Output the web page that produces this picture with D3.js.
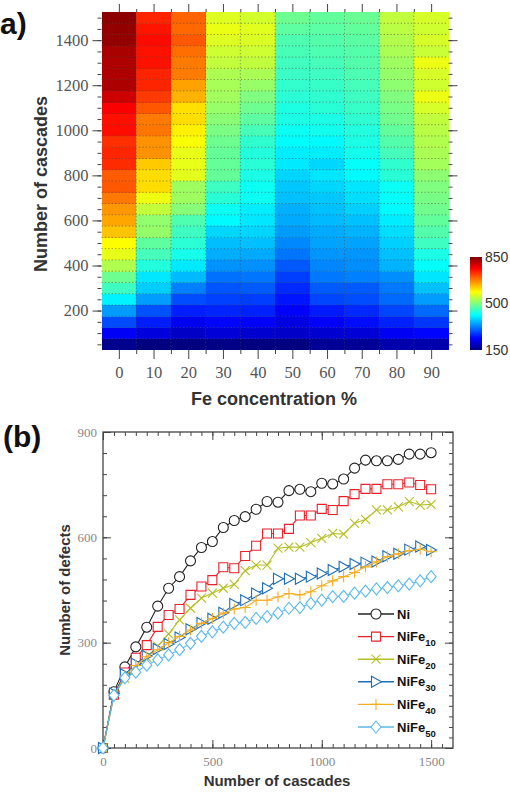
<!DOCTYPE html>
<html lang="en">
<head>
<meta charset="UTF-8">
<title>Defects vs cascades in NiFe alloys</title>
<script src="https://d3js.org/d3.v7.min.js"></script>
<style>
  body { margin: 0; background: #fff; }
  svg { display: block; }
</style>
</head>
<body>
<svg width="510" height="794"></svg>
<script>
// ---- data ----
const cascades = [0,50,100,150,200,250,300,350,400,450,500,550,600,650,700,750,800,850,900,950,1000,1050,1100,1150,1200,1250,1300,1350,1400,1450,1500];
const feConc = [0,10,20,30,40,50,60,70,80,90];
const seriesNames = ["Ni", "NiFe10", "NiFe20", "NiFe30", "NiFe40", "NiFe50"];

const ni     = [0,160,231,288,344,404,455,488,533,571,588,628,648,659,680,702,700,733,737,730,754,752,766,797,820,818,818,822,837,837,841];
const nife10 = [0,151,215,257,293,345,379,396,436,460,478,515,512,547,576,611,611,624,662,662,681,678,703,723,738,738,751,751,756,749,737];
const nife20 = [0,150,198,228,258,290,325,365,398,427,441,455,466,505,521,521,569,572,572,585,597,611,609,640,651,678,678,687,702,692,694];
const nife30 = [0,155,210,240,262,282,296,315,338,356,368,385,410,421,440,455,482,482,482,488,497,507,516,524,528,531,546,553,565,574,564];
const nife40 = [0,150,205,235,260,280,300,318,336,355,369,384,396,400,421,421,430,440,436,445,462,476,488,500,516,530,545,553,562,566,559];
const nife50 = [0,150,200,216,236,251,265,280,298,318,331,344,355,358,369,374,384,398,400,412,421,431,432,441,447,453,457,462,467,476,488];

// heat-map columns for 60..90 % Fe (rows 50..1500 cascades)
const fe60 = [165,205,235,255,285,300,320,330,340,350,355,365,370,375,385,395,385,400,410,425,430,440,445,450,455,460,465,470,475,480];
const fe70 = [165,210,245,265,290,300,325,335,340,350,360,370,380,390,395,410,415,425,430,435,445,450,455,460,465,470,470,475,480,485];
const fe80 = [180,230,260,285,310,320,335,360,370,380,390,400,410,415,420,440,445,460,470,480,490,495,500,510,515,520,530,535,540,545];
const fe90 = [180,240,275,310,345,370,395,415,430,455,470,480,490,495,500,510,525,530,535,540,545,560,575,555,560,575,550,560,555,560];

const colorTicks = [150, 500, 850];
const lineColors = ["#222222", "#e8212b", "#b5bf22", "#1f6db5", "#f2ae22", "#5bb9ea"];

// ---- setup ----
const svg = d3.select("svg");
const serif = '"Liberation Serif", "DejaVu Serif", serif';
const sans = '"Liberation Sans", Arial, sans-serif';
const fmt = d3.format("d");

const jet = d3.scaleLinear()
  .domain([150, 237.5, 412.5, 587.5, 762.5, 850])
  .range(["#000080", "#0000ff", "#00ffff", "#ffff00", "#ff0000", "#800000"])
  .clamp(true);

function styleAxis(g, color, size) {
  g.select(".domain").remove();
  g.attr("font-family", serif).attr("font-size", size);
  g.selectAll(".tick line").attr("stroke", "#444").attr("stroke-width", 1);
  g.selectAll(".tick text").attr("fill", color);
}

// ================= panel (a) : heat map =================
const xa = d3.scaleLinear().domain([-5, 95]).range([101.5, 448.5]);
const ya = d3.scaleLinear().domain([25, 1525]).range([350, 12]);

const rows = cascades.slice(1);
const heatCols = [ni, nife10, nife20, nife30, nife40, nife50].map(s => s.slice(1)).concat([fe60, fe70, fe80, fe90]);
const cells = feConc.flatMap((fe, i) => heatCols[i].map((v, j) => ({ fe, n: rows[j], v })));

const ga = svg.append("g");
ga.selectAll("rect.cell")
  .data(cells)
  .join("rect")
  .attr("class", "cell")
  .attr("x", d => xa(d.fe - 5))
  .attr("y", d => ya(d.n + 25))
  .attr("width", d => xa(d.fe + 5) - xa(d.fe - 5) + 0.4)
  .attr("height", d => ya(d.n - 25) - ya(d.n + 25) + 0.4)
  .attr("fill", d => jet(d.v))
  .attr("shape-rendering", "crispEdges");

// dotted grid on cell borders
ga.selectAll("line.hgrid")
  .data(rows.slice(0, -1))
  .join("line")
  .attr("x1", xa(-5)).attr("x2", xa(95))
  .attr("y1", d => ya(d + 25)).attr("y2", d => ya(d + 25))
  .attr("stroke", "#4a4a4a").attr("stroke-width", 0.8)
  .attr("stroke-dasharray", "1.2,2.2").attr("opacity", 0.75);
ga.selectAll("line.vgrid")
  .data(feConc.slice(0, -1))
  .join("line")
  .attr("y1", ya(25)).attr("y2", ya(1525))
  .attr("x1", d => xa(d + 5)).attr("x2", d => xa(d + 5))
  .attr("stroke", "#4a4a4a").attr("stroke-width", 0.8)
  .attr("stroke-dasharray", "1.2,2.2").attr("opacity", 0.75);

const yMajorA = [200, 400, 600, 800, 1000, 1200, 1400];
const xMinorA = feConc.slice(0, -1).map(d => d + 5);

ga.append("g").attr("transform", `translate(${xa(-5)},0)`)
  .call(d3.axisLeft(ya).tickValues(yMajorA).tickSize(9).tickPadding(4).tickFormat(fmt))
  .call(g => styleAxis(g, "#555", 16.5));
ga.append("g").attr("transform", `translate(${xa(-5)},0)`)
  .call(d3.axisLeft(ya).tickValues(rows).tickSize(4).tickFormat(""))
  .call(g => styleAxis(g, "#555", 16));
ga.append("g").attr("transform", `translate(${xa(95)},0)`)
  .call(d3.axisRight(ya).tickValues(yMajorA).tickSize(9).tickFormat(""))
  .call(g => styleAxis(g, "#555", 16));
ga.append("g").attr("transform", `translate(${xa(95)},0)`)
  .call(d3.axisRight(ya).tickValues(rows).tickSize(4).tickFormat(""))
  .call(g => styleAxis(g, "#555", 16));

ga.append("g").attr("transform", `translate(0,${ya(25)})`)
  .call(d3.axisBottom(xa).tickValues(feConc).tickSize(9).tickPadding(7).tickFormat(fmt))
  .call(g => styleAxis(g, "#555", 16.5));
ga.append("g").attr("transform", `translate(0,${ya(25)})`)
  .call(d3.axisBottom(xa).tickValues(xMinorA).tickSize(4).tickFormat(""))
  .call(g => styleAxis(g, "#555", 16));
ga.append("g").attr("transform", `translate(0,${ya(1525)})`)
  .call(d3.axisTop(xa).tickValues(feConc).tickSize(8).tickFormat(""))
  .call(g => styleAxis(g, "#555", 16));
ga.append("g").attr("transform", `translate(0,${ya(1525)})`)
  .call(d3.axisTop(xa).tickValues(xMinorA).tickSize(3).tickFormat(""))
  .call(g => styleAxis(g, "#555", 16));

ga.append("text")
  .attr("x", 274).attr("y", 405)
  .attr("text-anchor", "middle")
  .attr("font-family", sans).attr("font-weight", "bold").attr("font-size", 18)
  .attr("fill", "#333")
  .text("Fe concentration %");
ga.append("text")
  .attr("transform", "translate(47,184) rotate(-90)")
  .attr("text-anchor", "middle")
  .attr("font-family", sans).attr("font-weight", "bold").attr("font-size", 18)
  .attr("fill", "#333")
  .text("Number of cascades");
// panel letter: the opening bracket falls outside the frame in the source
ga.append("text")
  .attr("x", 0).attr("y", 34)
  .attr("font-family", sans).attr("font-weight", "bold").attr("font-size", 30)
  .attr("fill", "#111")
  .text("a)");

// colour bar
const cb = d3.scaleLinear().domain([150, 850]).range([350, 257]);
const grad = svg.append("defs").append("linearGradient")
  .attr("id", "jetGrad").attr("x1", 0).attr("y1", 1).attr("x2", 0).attr("y2", 0);
grad.selectAll("stop")
  .data(jet.domain())
  .join("stop")
  .attr("offset", d => (d - 150) / 700)
  .attr("stop-color", d => jet(d));
ga.append("rect")
  .attr("x", 470).attr("width", 12)
  .attr("y", cb(850)).attr("height", cb(150) - cb(850))
  .attr("fill", "url(#jetGrad)");
ga.append("g").attr("transform", "translate(482,0)")
  .call(d3.axisRight(cb).tickValues(colorTicks).tickSize(0).tickPadding(3).tickFormat(fmt))
  .call(g => {
    g.select(".domain").remove();
    g.attr("font-family", sans).attr("font-size", 14);
    g.selectAll(".tick text").attr("fill", "#333");
  });

// ================= panel (b) : line chart =================
const xb = d3.scaleLinear().domain([0, 1600]).range([103, 453]);
const yb = d3.scaleLinear().domain([0, 900]).range([748, 432]);
const gb = svg.append("g");

gb.append("rect")
  .attr("x", xb(0)).attr("y", yb(900))
  .attr("width", xb(1600) - xb(0)).attr("height", yb(0) - yb(900))
  .attr("fill", "none").attr("stroke", "#444").attr("stroke-width", 1.3);

const xMajorB = [0, 500, 1000, 1500];
const xMinorB = d3.range(50, 1600, 50);
const yMajorB = [0, 300, 600, 900];

gb.append("g").attr("transform", `translate(0,${yb(0)})`)
  .call(d3.axisBottom(xb).tickValues(xMajorB).tickSizeInner(-8).tickSizeOuter(0).tickPadding(9).tickFormat(fmt))
  .call(g => styleAxis(g, "#888", 13));
gb.append("g").attr("transform", `translate(0,${yb(0)})`)
  .call(d3.axisBottom(xb).tickValues(xMinorB).tickSizeInner(-4).tickSizeOuter(0).tickFormat(""))
  .call(g => styleAxis(g, "#888", 13));
gb.append("g").attr("transform", `translate(0,${yb(900)})`)
  .call(d3.axisTop(xb).tickValues(xMajorB).tickSizeInner(-8).tickSizeOuter(0).tickFormat(""))
  .call(g => styleAxis(g, "#888", 13));
gb.append("g").attr("transform", `translate(0,${yb(900)})`)
  .call(d3.axisTop(xb).tickValues(xMinorB).tickSizeInner(-4).tickSizeOuter(0).tickFormat(""))
  .call(g => styleAxis(g, "#888", 13));
gb.append("g").attr("transform", `translate(${xb(0)},0)`)
  .call(d3.axisLeft(yb).tickValues(yMajorB).tickSizeInner(-8).tickSizeOuter(0).tickPadding(6).tickFormat(fmt))
  .call(g => styleAxis(g, "#888", 13));
gb.append("g").attr("transform", `translate(${xb(0)},0)`)
  .call(d3.axisLeft(yb).tickValues(d3.range(60, 900, 60)).tickSizeInner(-4).tickSizeOuter(0).tickFormat(""))
  .call(g => styleAxis(g, "#888", 13));
gb.append("g").attr("transform", `translate(${xb(1600)},0)`)
  .call(d3.axisRight(yb).tickValues(yMajorB).tickSizeInner(-8).tickSizeOuter(0).tickFormat(""))
  .call(g => styleAxis(g, "#888", 13));
gb.append("g").attr("transform", `translate(${xb(1600)},0)`)
  .call(d3.axisRight(yb).tickValues(d3.range(30, 900, 30)).tickSizeInner(-4).tickSizeOuter(0).tickFormat(""))
  .call(g => styleAxis(g, "#888", 13));

gb.append("text")
  .attr("x", 277).attr("y", 786)
  .attr("text-anchor", "middle")
  .attr("font-family", sans).attr("font-weight", "bold").attr("font-size", 15)
  .attr("fill", "#333")
  .text("Number of cascades");
gb.append("text")
  .attr("transform", "translate(70,590) rotate(-90)")
  .attr("text-anchor", "middle")
  .attr("font-family", sans).attr("font-weight", "bold").attr("font-size", 15)
  .attr("fill", "#333")
  .text("Number of defects");
gb.append("text")
  .attr("x", 3).attr("y", 447)
  .attr("font-family", sans).attr("font-weight", "bold").attr("font-size", 30)
  .attr("fill", "#111")
  .text("(b)");

// marker shapes
const markerPaths = [
  "M5,0A5,5 0 1,1 -5,0A5,5 0 1,1 5,0Z",          // circle
  "M-4.5,-4.5H4.5V4.5H-4.5Z",                     // square
  "M-4.5,-4.5L4.5,4.5M-4.5,4.5L4.5,-4.5",         // x
  "M-4.5,-5.5L5.5,0L-4.5,5.5Z",                   // right triangle
  "M-5.5,0H5.5M0,-5.5V5.5",                       // plus
  "M0,-6L5,0L0,6L-5,0Z"                           // diamond
];

const allSeries = [ni, nife10, nife20, nife30, nife40, nife50];
const line = d3.line().x((d, i) => xb(cascades[i])).y(d => yb(d));

allSeries.forEach((vals, k) => {
  const s = gb.append("g");
  s.append("path")
    .datum(vals)
    .attr("d", line)
    .attr("fill", "none")
    .attr("stroke", lineColors[k])
    .attr("stroke-width", 1.1);
  s.selectAll("path.m")
    .data(vals)
    .join("path")
    .attr("class", "m")
    .attr("transform", (d, i) => `translate(${xb(cascades[i])},${yb(d)})`)
    .attr("d", markerPaths[k])
    .attr("fill", (k === 2 || k === 4) ? "none" : "#fff")
    .attr("stroke", lineColors[k])
    .attr("stroke-width", 1.1);
});

// legend
const legend = gb.append("g");
seriesNames.forEach((name, k) => {
  const y = 614 + k * 22.6;
  legend.append("line")
    .attr("x1", 358).attr("x2", 394).attr("y1", y).attr("y2", y)
    .attr("stroke", lineColors[k]).attr("stroke-width", 1.4);
  legend.append("path")
    .attr("transform", `translate(376,${y})`)
    .attr("d", markerPaths[k])
    .attr("fill", (k === 2 || k === 4) ? "none" : "#fff")
    .attr("stroke", lineColors[k]).attr("stroke-width", 1.1);
  const t = legend.append("text")
    .attr("x", 397).attr("y", y + 4.5)
    .attr("font-family", sans).attr("font-weight", "bold").attr("font-size", 13)
    .attr("fill", "#111");
  if (name === "Ni") {
    t.text("Ni");
  } else {
    t.append("tspan").text("NiFe");
    t.append("tspan").attr("font-size", 9.5).attr("dy", 5).text(name.slice(4));
  }
});
</script>
</body>
</html>
